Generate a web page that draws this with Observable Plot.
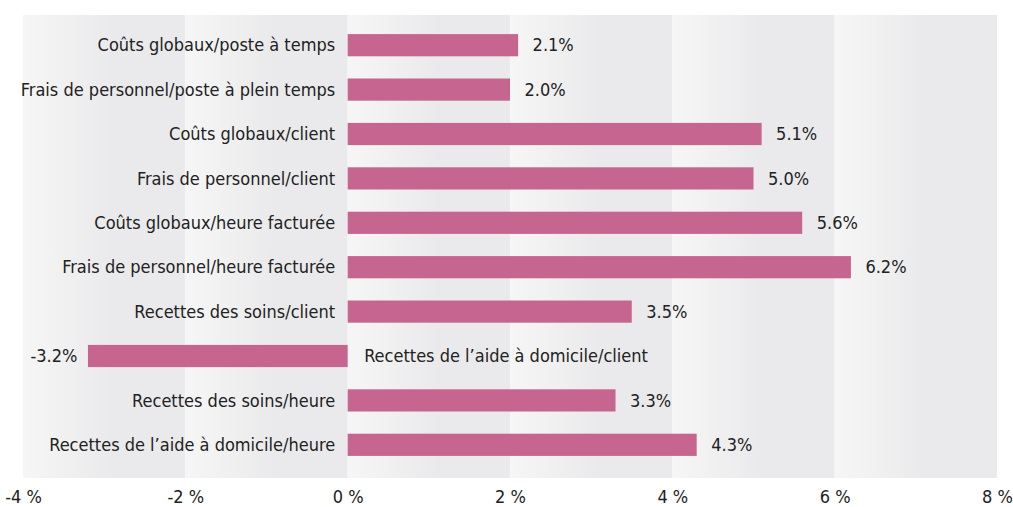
<!DOCTYPE html>
<html>
<head>
<meta charset="utf-8">
<script src="https://cdn.jsdelivr.net/npm/d3@7"></script>
<script src="https://cdn.jsdelivr.net/npm/@observablehq/plot@0.6"></script>
<style>
  body { margin: 0; background: #fff; }
  #chart svg { display: block; }
</style>
</head>
<body>
<div id="chart"></div>
<script>
const categories = [
  "Coûts globaux/poste à temps",
  "Frais de personnel/poste à plein temps",
  "Coûts globaux/client",
  "Frais de personnel/client",
  "Coûts globaux/heure facturée",
  "Frais de personnel/heure facturée",
  "Recettes des soins/client",
  "Recettes de l’aide à domicile/client",
  "Recettes des soins/heure",
  "Recettes de l’aide à domicile/heure"
];
const values = [2.1, 2.0, 5.1, 5.0, 5.6, 6.2, 3.5, -3.2, 3.3, 4.3];
const xTicks = [-4, -2, 0, 2, 4, 6, 8];
const bandStarts = [-4, -2, 0, 2, 4, 6];

const data = categories.map((c, i) => ({category: c, value: values[i]}));
const pos = data.filter(d => d.value >= 0);
const neg = data.filter(d => d.value < 0);
const bands = bandStarts.map(s => ({x1: s, x2: s + 2}));

const FONT = "'DejaVu Sans Condensed', 'DejaVu Sans', sans-serif";
const FS = 18;

const chart = Plot.plot({
  width: 1013,
  height: 507,
  marginLeft: 23,
  marginRight: 16,
  marginTop: 15,
  marginBottom: 29,
  style: {fontFamily: FONT, fontSize: FS + "px", color: "#222", background: "#fff"},
  x: {domain: [-4, 8], ticks: xTicks, tickFormat: d => `${d} %`, tickSize: 0, tickPadding: 12, label: null},
  y: {domain: categories, range: [13, 477], round: false, padding: 0.5, paddingOuter: 0.475, axis: null, label: null},
  marks: [
    Plot.rect(bands, {x1: "x1", x2: "x2", fill: "url(#bandgrad)"}),
    Plot.barX(data, {y: "category", x: "value", fill: "#c6658f"}),
    Plot.text(pos, {y: "category", x: 0, text: "category", textAnchor: "end", dx: -13, fill: "#222", fontSize: FS}),
    Plot.text(neg, {y: "category", x: 0, text: "category", textAnchor: "start", dx: 16, fill: "#222", fontSize: FS}),
    Plot.text(pos, {y: "category", x: "value", text: d => `${d.value.toFixed(1)}%`, textAnchor: "start", dx: 14, fill: "#222", fontSize: FS}),
    Plot.text(neg, {y: "category", x: "value", text: d => `${d.value.toFixed(1)}%`, textAnchor: "end", dx: -11, fill: "#222", fontSize: FS})
  ]
});

const svg = d3.select(chart);
const defs = svg.insert("defs", ":first-child");
const g = defs.append("linearGradient").attr("id", "bandgrad").attr("x1", "0").attr("x2", "1").attr("y1", "0").attr("y2", "0");
g.append("stop").attr("offset", "0").attr("stop-color", "#f6f6f6");
g.append("stop").attr("offset", "0.55").attr("stop-color", "#eaeaec");
g.append("stop").attr("offset", "1").attr("stop-color", "#eaeaec");

document.getElementById("chart").appendChild(chart);
</script>
</body>
</html>
